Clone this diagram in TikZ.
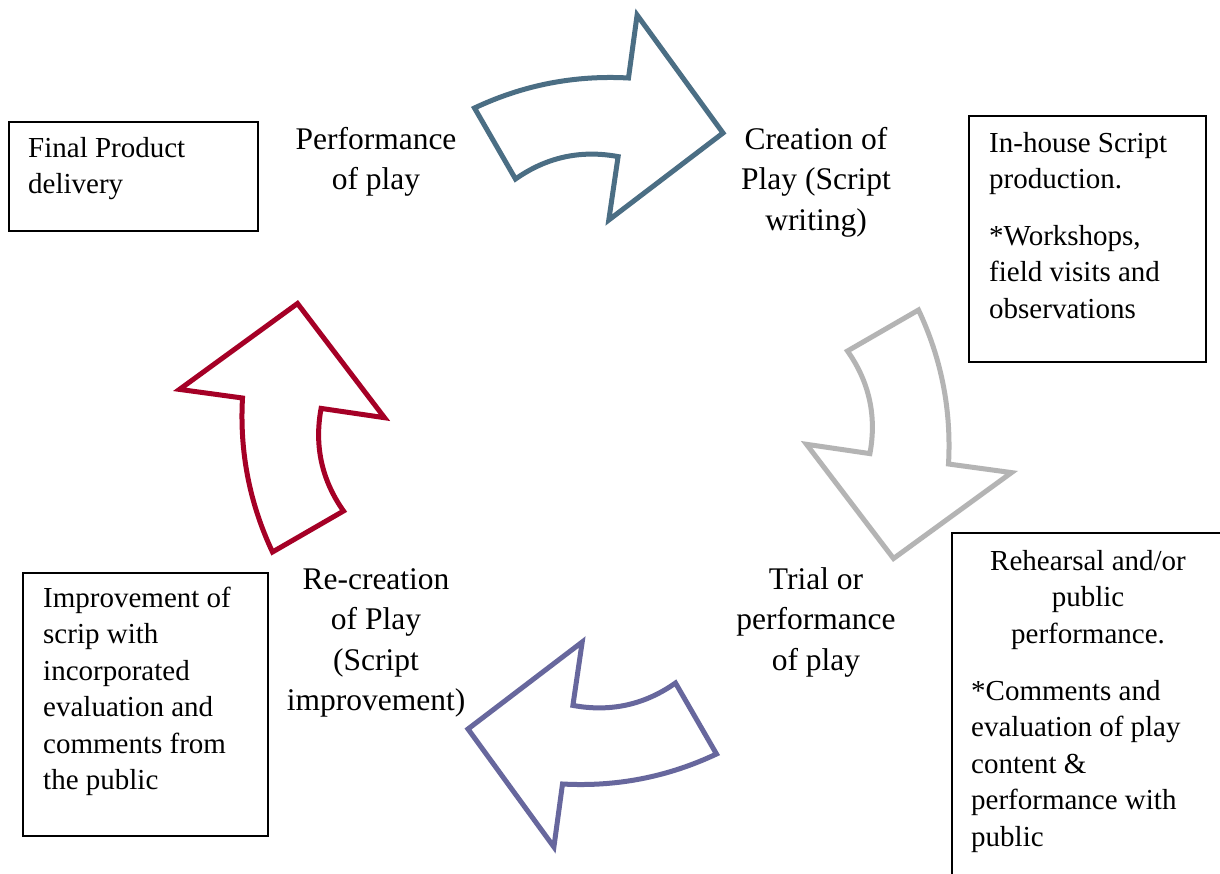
\documentclass[tikz,border=0pt]{standalone}
\usepackage{fontspec}
\setmainfont{Liberation Serif}
\definecolor{flowblue}{HTML}{4B6E84}
\definecolor{flowgray}{HTML}{B4B4B4}
\definecolor{flowpurple}{HTML}{67679D}
\definecolor{flowred}{HTML}{A50026}
\tikzset{
  arrowline/.style={line width=5bp, line join=miter, fill=white},
  boxline/.style={draw=black, line width=1.6bp},
  framebox/.style={boxline, rectangle, inner sep=0pt, anchor=north west},
  % multi-line texts are placed by the baseline of their last line
  stagetxt/.style={font=\fontsize{31.5bp}{40.5bp}\selectfont, align=center, anchor=base, inner sep=0pt},
  boxtxt/.style={font=\fontsize{29bp}{36.5bp}\selectfont, align=left, anchor=base west, inner sep=0pt},
  boxtxtc/.style={font=\fontsize{29bp}{36.5bp}\selectfont, align=center, anchor=base, inner sep=0pt},
  % one curved block arrow of the cycle, drawn about the hub
  pics/cyclearrow/.style={code={
    \path[arrowline, pic actions]
      (-121,-323) -- (-80,-252)
      .. controls (-48.9,-273.9) and (-14.7,-281.3) .. (22.6,-274.4)
      -- (13.3,-211) -- (127.5,-298) -- (41.6,-416) -- (33,-353)
      .. controls (-20.8,-356) and (-72.2,-346) .. cycle;
  }}
}
\begin{document}
\begin{tikzpicture}[x=1bp, y=-1bp]
  \path[use as bounding box, fill=white] (0,0) rectangle (1220,874);

  \coordinate (hub) at (595.5,431);

  % the four cycle arrows
  \pic[draw=flowblue] at (hub) {cyclearrow};
  \pic[draw=flowgray, rotate=-90] at (hub) {cyclearrow};
  \pic[draw=flowpurple, rotate=180] at (hub) {cyclearrow};
  \pic[draw=flowred, rotate=90] at (hub) {cyclearrow};

  % stage labels
  \node[stagetxt] (perf) at (376,189.5) {Performance\\of play};
  \node[stagetxt] (create) at (816,230) {Creation of\\Play (Script\\writing)};
  \node[stagetxt] (trial) at (816,670) {Trial or\\performance\\of play};
  \node[stagetxt] (recreate) at (376,710.5) {Re-creation\\of Play\\(Script\\improvement)};

  % side notes
  \node[framebox, minimum width=249bp, minimum height=109bp] (finalbox) at (8,121) {};
  \node[boxtxt] (finaltxt) at (28,193.5) {Final Product\\delivery};

  \node[framebox, minimum width=237bp, minimum height=246bp] (inhousebox) at (968,115) {};
  \node[boxtxt] (inhousetxt) at (989,318) {In-house Script\\production.\\[20bp]*Workshops,\\field visits and\\observations};

  \node[framebox, minimum width=245bp, minimum height=263bp] (improvebox) at (22,572) {};
  \node[boxtxt] (improvetxt) at (43,789.5) {Improvement of\\scrip with\\incorporated\\evaluation and\\comments from\\the public};

  % this note runs on past the right and bottom edges: only its top and left sides show
  \coordinate (rehearsecorner) at (952,533);
  \draw[boxline] (1221,533) -- (rehearsecorner) -- (952,875);
  \node[boxtxtc] (rehearsetxt) at (1088,643) {Rehearsal and/or\\public\\performance.};
  \node[boxtxt] (commenttxt) at (971,846) {*Comments and\\evaluation of play\\content \&\\performance with\\public};
\end{tikzpicture}
\end{document}
